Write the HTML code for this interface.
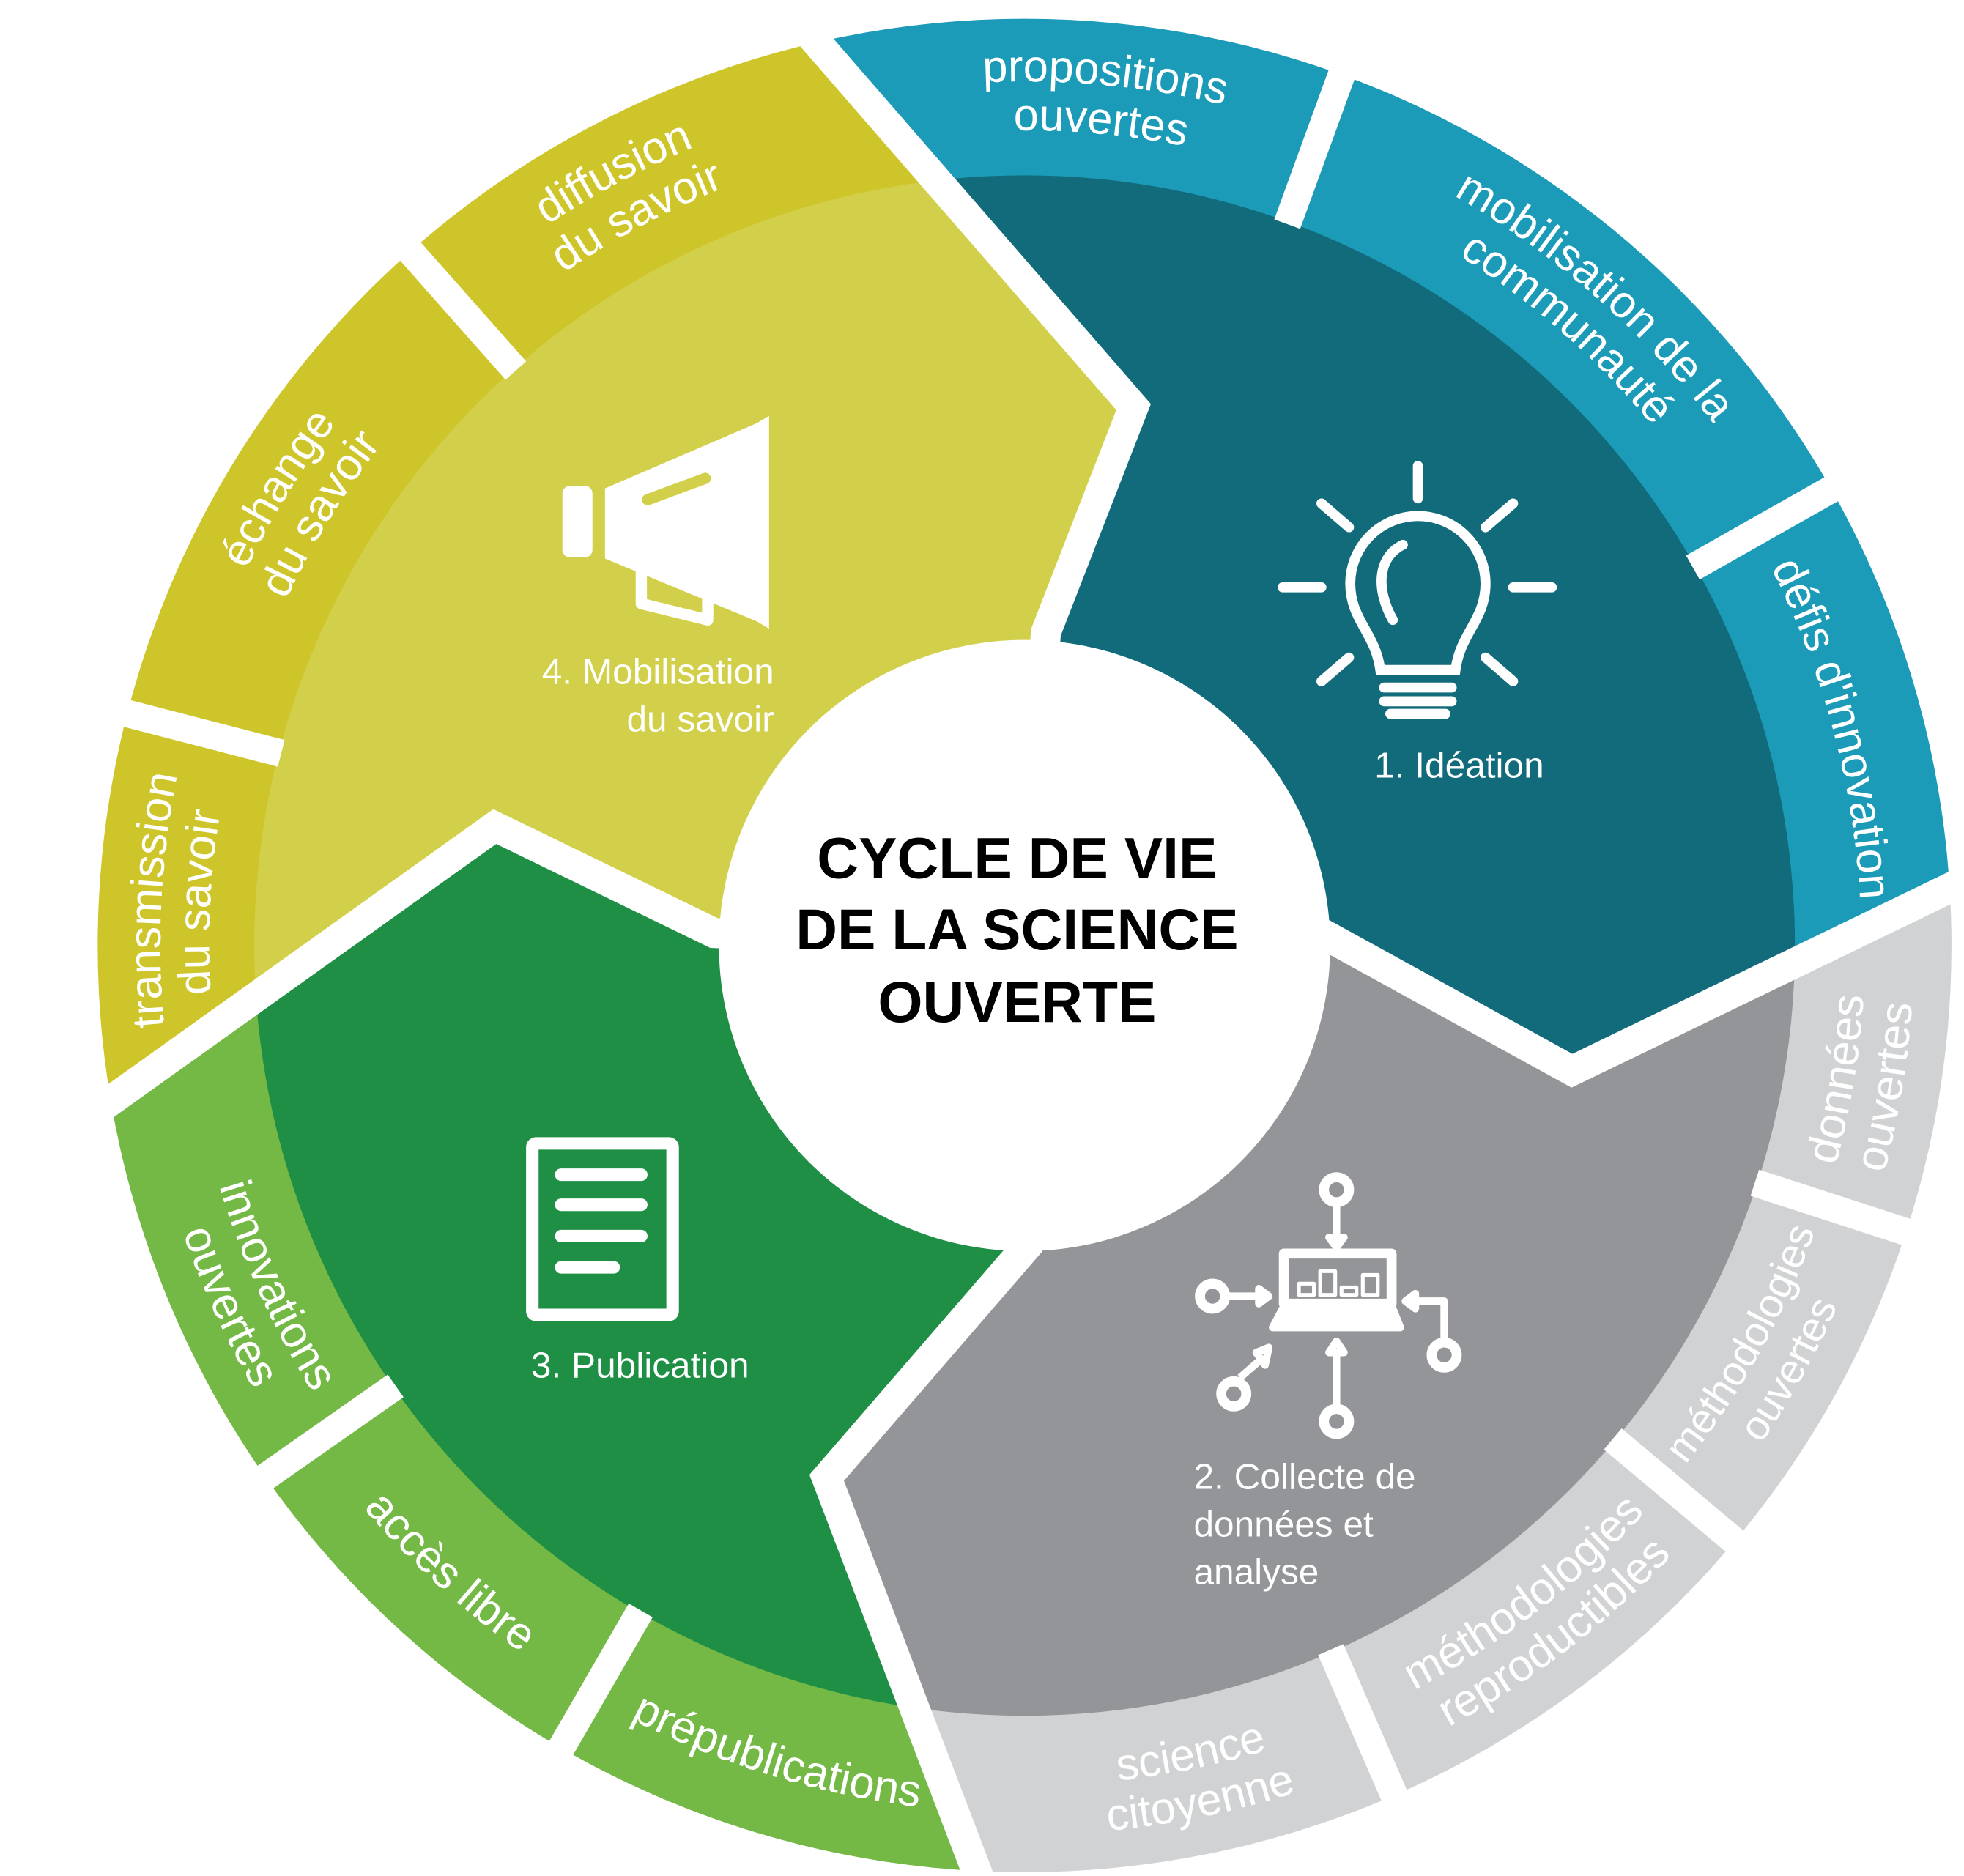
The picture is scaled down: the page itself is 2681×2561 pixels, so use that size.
<!DOCTYPE html>
<html><head><meta charset="utf-8"><style>
html,body{margin:0;padding:0;background:#fff;overflow:hidden;width:2681px;height:2561px;}
svg{display:block;}
.r{font-family:"Liberation Sans",sans-serif;font-size:36px;fill:#fff;}
.l{font-family:"Liberation Sans",sans-serif;font-size:29px;fill:#fff;}
</style></head><body>
<svg width="2681" height="2561" viewBox="0 0 1568 1498" preserveAspectRatio="none" xmlns="http://www.w3.org/2000/svg">
<defs>
<clipPath id="cT"><polygon points="818,755 835,505 905,325 640,20 500,-140 1800,-140 1800,640 1700,640 1565,705 1255,855 1055,745"/></clipPath>
<clipPath id="cG"><polygon points="818,755 1055,745 1255,855 1565,705 1700,640 1800,640 1800,1700 830,1700 830,1640 780,1495 660,1180 820,995"/></clipPath>
<clipPath id="cN"><polygon points="818,755 820,995 660,1180 780,1495 830,1640 830,1700 -200,1700 -200,985 -60,985 80,885 395,660 570,745"/></clipPath>
<clipPath id="cY"><polygon points="818,755 570,745 395,660 80,885 -60,985 -200,985 -200,-140 500,-140 640,20 905,325 835,505"/></clipPath>
<path id="cwA"/><path id="cwB"/><path id="cwS"/><path id="ccA"/><path id="ccB"/><path id="ccS"/>
</defs>
<g clip-path="url(#cT)"><circle cx="818" cy="755" r="740" fill="#1b9bb8"/><circle cx="818" cy="755" r="615" fill="#116b7a"/></g>
<g clip-path="url(#cG)"><circle cx="818" cy="755" r="740" fill="#d1d2d4"/><circle cx="818" cy="755" r="615" fill="#939598"/></g>
<g clip-path="url(#cN)"><circle cx="818" cy="755" r="740" fill="#74b845"/><circle cx="818" cy="755" r="615" fill="#1f8f45"/></g>
<g clip-path="url(#cY)"><circle cx="818" cy="755" r="740" fill="#cec52a"/><circle cx="818" cy="755" r="615" fill="#d2d04a"/></g>
<g stroke="#fff" stroke-width="24" fill="none" stroke-linejoin="miter">
<polyline points="818,755 835,505 905,325 640,20 500,-140"/>
<polyline points="818,755 1055,745 1255,855 1565,705 1700,640"/>
<polyline points="818,755 820,995 660,1180 780,1495 830,1640"/>
<polyline points="818,755 570,745 395,660 80,885 -60,985"/>
</g>
<g id="gaps" stroke="#fff" stroke-width="22"></g>
<circle cx="818" cy="755" r="244" fill="#fff"/>
<g font-family="Liberation Sans, sans-serif" font-weight="bold" font-size="46" text-anchor="middle" fill="#000">
<text x="812" y="701">CYCLE DE VIE</text>
<text x="812" y="758">DE LA SCIENCE</text>
<text x="812" y="816">OUVERTE</text>
</g>
<text class="r" transform="rotate(5.3 818 755)"><textPath href="#cwA" startOffset="50%" text-anchor="middle">propositions</textPath></text>
<text class="r" transform="rotate(5.3 818 755)"><textPath href="#cwB" startOffset="50%" text-anchor="middle">ouvertes</textPath></text>
<text class="r" transform="rotate(41.3 818 755)"><textPath href="#cwA" startOffset="50%" text-anchor="middle">mobilisation de la</textPath></text>
<text class="r" transform="rotate(41.3 818 755)"><textPath href="#cwB" startOffset="50%" text-anchor="middle">communauté</textPath></text>
<text class="r" transform="rotate(75 818 755)"><textPath href="#cwS" startOffset="50%" text-anchor="middle">défis d'innovation</textPath></text>
<text class="r" transform="rotate(-80.7 818 755)"><textPath href="#ccA" startOffset="50%" text-anchor="middle">données</textPath></text>
<text class="r" transform="rotate(-80.7 818 755)"><textPath href="#ccB" startOffset="50%" text-anchor="middle">ouvertes</textPath></text>
<text class="r" style="font-size:33px" transform="rotate(-61 818 755)"><textPath href="#ccA" startOffset="50%" text-anchor="middle">méthodologies</textPath></text>
<text class="r" style="font-size:33px" transform="rotate(-61 818 755)"><textPath href="#ccB" startOffset="50%" text-anchor="middle">ouvertes</textPath></text>
<text class="r" transform="rotate(-37.6 818 755)"><textPath href="#ccA" startOffset="50%" text-anchor="middle">méthodologies</textPath></text>
<text class="r" transform="rotate(-37.6 818 755)"><textPath href="#ccB" startOffset="50%" text-anchor="middle">reproductibles</textPath></text>
<text class="r" transform="rotate(-11.6 818 755)"><textPath href="#ccA" startOffset="50%" text-anchor="middle">science</textPath></text>
<text class="r" transform="rotate(-11.6 818 755)"><textPath href="#ccB" startOffset="50%" text-anchor="middle">citoyenne</textPath></text>
<text class="r" transform="rotate(17 818 755)"><textPath href="#ccS" startOffset="50%" text-anchor="middle">prépublications</textPath></text>
<text class="r" transform="rotate(42.5 818 755)"><textPath href="#ccS" startOffset="50%" text-anchor="middle">accès libre</textPath></text>
<text class="r" transform="rotate(65.6 818 755)"><textPath href="#ccA" startOffset="50%" text-anchor="middle">innovations</textPath></text>
<text class="r" transform="rotate(65.6 818 755)"><textPath href="#ccB" startOffset="50%" text-anchor="middle">ouvertes</textPath></text>
<text class="r" transform="rotate(273 818 755)"><textPath href="#cwA" startOffset="50%" text-anchor="middle">transmission</textPath></text>
<text class="r" transform="rotate(273 818 755)"><textPath href="#cwB" startOffset="50%" text-anchor="middle">du savoir</textPath></text>
<text class="r" transform="rotate(301.5 818 755)"><textPath href="#cwA" startOffset="50%" text-anchor="middle">échange</textPath></text>
<text class="r" transform="rotate(301.5 818 755)"><textPath href="#cwB" startOffset="50%" text-anchor="middle">du savoir</textPath></text>
<text class="r" transform="rotate(332 818 755)"><textPath href="#cwA" startOffset="50%" text-anchor="middle">diffusion</textPath></text>
<text class="r" transform="rotate(332 818 755)"><textPath href="#cwB" startOffset="50%" text-anchor="middle">du savoir</textPath></text>
<text class="l" x="1165" y="621" text-anchor="middle">1. Idéation</text>
<text class="l" x="953" y="1189">2. Collecte de</text>
<text class="l" x="953" y="1227">données et</text>
<text class="l" x="953" y="1265">analyse</text>
<text class="l" x="511" y="1100" text-anchor="middle">3. Publication</text>
<text class="l" x="618" y="546" text-anchor="end">4. Mobilisation</text>
<text class="l" x="618" y="584" text-anchor="end">du savoir</text>
<g stroke="#fff" stroke-width="8" fill="none" stroke-linecap="round">
<line x1="1132" y1="372" x2="1132" y2="398"/>
<line x1="1055" y1="402" x2="1077" y2="421"/><line x1="1208" y1="402" x2="1186" y2="421"/>
<line x1="1024" y1="469" x2="1055" y2="469"/><line x1="1208" y1="469" x2="1239" y2="469"/>
<line x1="1055" y1="544" x2="1077" y2="525"/><line x1="1208" y1="544" x2="1186" y2="525"/>
<path d="M1102,535 C1098,505 1078,495 1078,466 A54,54 0 1 1 1186,466 C1186,495 1166,505 1162,535 Z"/>
<path d="M1112,495 C1098,470 1100,445 1120,435"/>
<line x1="1105" y1="549" x2="1159" y2="549"/><line x1="1105" y1="560" x2="1159" y2="560"/><line x1="1110" y1="570" x2="1154" y2="570"/>
</g>
<g fill="#fff">
<rect x="449" y="388" width="24" height="57" rx="6"/>
<polygon points="483,390 604,338 614,332 614,502 604,496 483,446"/>
</g>
<path d="M512,450 L512,482 L565,495 L565,470" stroke="#fff" stroke-width="9" fill="none" stroke-linejoin="round"/>
<line x1="517" y1="399" x2="563" y2="382" stroke="#d2d04a" stroke-width="9" stroke-linecap="round"/>
<g stroke="#fff" stroke-width="10" fill="none" stroke-linecap="round">
<rect x="425" y="913" width="112" height="137" rx="3"/>
<line x1="448" y1="938" x2="512" y2="938"/><line x1="448" y1="962" x2="512" y2="962"/>
<line x1="448" y1="987" x2="512" y2="987"/><line x1="448" y1="1012" x2="490" y2="1012"/>
</g>
<g stroke="#fff" stroke-width="6" fill="none" stroke-linejoin="round">
<rect x="1025" y="1001" width="86" height="40" stroke-width="8"/>
<polygon points="1024,1045 1112,1045 1118,1060 1016,1060" fill="#fff"/>
<rect x="1037" y="1025" width="12" height="9" stroke-width="3"/>
<rect x="1054" y="1015" width="12" height="19" stroke-width="3"/>
<rect x="1071" y="1028" width="12" height="6" stroke-width="3"/>
<rect x="1088" y="1018" width="12" height="16" stroke-width="3"/>
<circle cx="1067" cy="950" r="10" stroke-width="8"/>
<circle cx="968" cy="1035" r="10" stroke-width="8"/>
<circle cx="1153" cy="1082" r="10" stroke-width="8"/>
<circle cx="985" cy="1113" r="10" stroke-width="8"/>
<circle cx="1067" cy="1135" r="10" stroke-width="8"/>
<line x1="1067" y1="960" x2="1067" y2="986"/><polygon points="1061,988 1073,988 1067,996"/>
<line x1="978" y1="1035" x2="1005" y2="1035"/><polygon points="1005,1029 1005,1041 1013,1035"/>
<path d="M1153,1072 L1153,1039 L1130,1039"/><polygon points="1130,1033 1130,1045 1122,1039"/>
<line x1="1067" y1="1125" x2="1067" y2="1080"/><polygon points="1061,1080 1073,1080 1067,1071"/>
<line x1="990" y1="1100" x2="1005" y2="1087"/><polygon points="1003,1080 1010,1090 1013,1076"/>
</g>
</svg>
<script>
const cx=818,cy=755,D=80*Math.PI/180;
function arc(r,cw){if(cw)return `M${cx-r*Math.sin(D)},${cy-r*Math.cos(D)} A${r},${r} 0 0 1 ${cx+r*Math.sin(D)},${cy-r*Math.cos(D)}`;
return `M${cx-r*Math.sin(D)},${cy+r*Math.cos(D)} A${r},${r} 0 0 0 ${cx+r*Math.sin(D)},${cy+r*Math.cos(D)}`;}
document.getElementById('cwA').setAttribute('d',arc(690,1));
document.getElementById('cwB').setAttribute('d',arc(651,1));
document.getElementById('cwS').setAttribute('d',arc(668,1));
document.getElementById('ccA').setAttribute('d',arc(671,0));
document.getElementById('ccB').setAttribute('d',arc(710,0));
document.getElementById('ccS').setAttribute('d',arc(693,0));
const g=document.getElementById('gaps');
[-70,-29.5,18,40,66.5,120,145,194.5,228.5].forEach(a=>{const t=a*Math.PI/180;
const l=document.createElementNS('http://www.w3.org/2000/svg','line');
l.setAttribute('x1',cx+613*Math.cos(t));l.setAttribute('y1',cy+613*Math.sin(t));
l.setAttribute('x2',cx+770*Math.cos(t));l.setAttribute('y2',cy+770*Math.sin(t));g.appendChild(l);});
</script>
</body></html>
